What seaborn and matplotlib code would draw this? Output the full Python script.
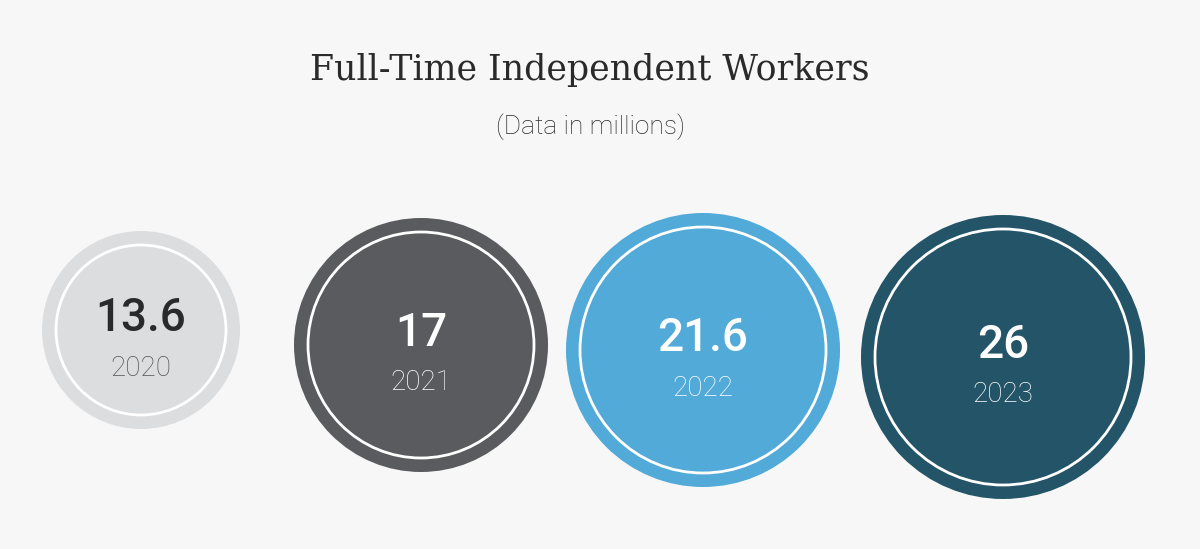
import matplotlib
matplotlib.use("Agg")
import matplotlib.pyplot as plt
import seaborn as sns
from matplotlib.patches import Circle

years = ["2020", "2021", "2022", "2023"]
values = [13.6, 17, 21.6, 26]
colors = ["#dcdddf", "#5a5b5f", "#52aad8", "#245468"]
value_colors = ["#2a2a2a", "#ffffff", "#ffffff", "#ffffff"]
year_colors = ["#555555", "#ffffff", "#ffffff", "#ffffff"]

cx = [141, 421, 703, 1003]
cy = [330, 345, 350, 357]
radii = [99, 127, 137, 142]

sns.set_theme(style="white")
plt.rcParams['font.family'] = ['Roboto', 'DejaVu Sans']
fig = plt.figure(figsize=(12, 5.49), dpi=100, facecolor="#f7f7f7")
ax = fig.add_axes([0, 0, 1, 1])
ax.set_facecolor("#f7f7f7")
ax.set_xlim(0, 1200)
ax.set_ylim(549, 0)
ax.set_aspect("equal")
ax.axis("off")

for i in range(len(values)):
    ax.add_patch(Circle((cx[i], cy[i]), radii[i], color=colors[i], lw=0))
    ax.add_patch(Circle((cx[i], cy[i]), radii[i] - 14, fill=False, ec="white", lw=2))
    v = values[i]
    txt = f"{v:g}"
    ax.text(cx[i], cy[i] - 12, txt, ha="center", va="center", fontsize=33,
            fontweight="medium", color=value_colors[i])
    ax.text(cx[i], cy[i] + 38, years[i], ha="center", va="center", fontsize=20,
            fontweight="light", color=year_colors[i])

ax.text(590, 70, "Full-Time Independent Workers", ha="center", va="center",
        fontsize=25, family=["DejaVu Serif"], fontweight="light", color="#2a2a2a")
ax.text(590, 127, "(Data in millions)", ha="center", va="center",
        fontsize=19, fontweight="light", color="#2a2a2a")

fig.savefig("out.png", dpi=100, facecolor=fig.get_facecolor())
